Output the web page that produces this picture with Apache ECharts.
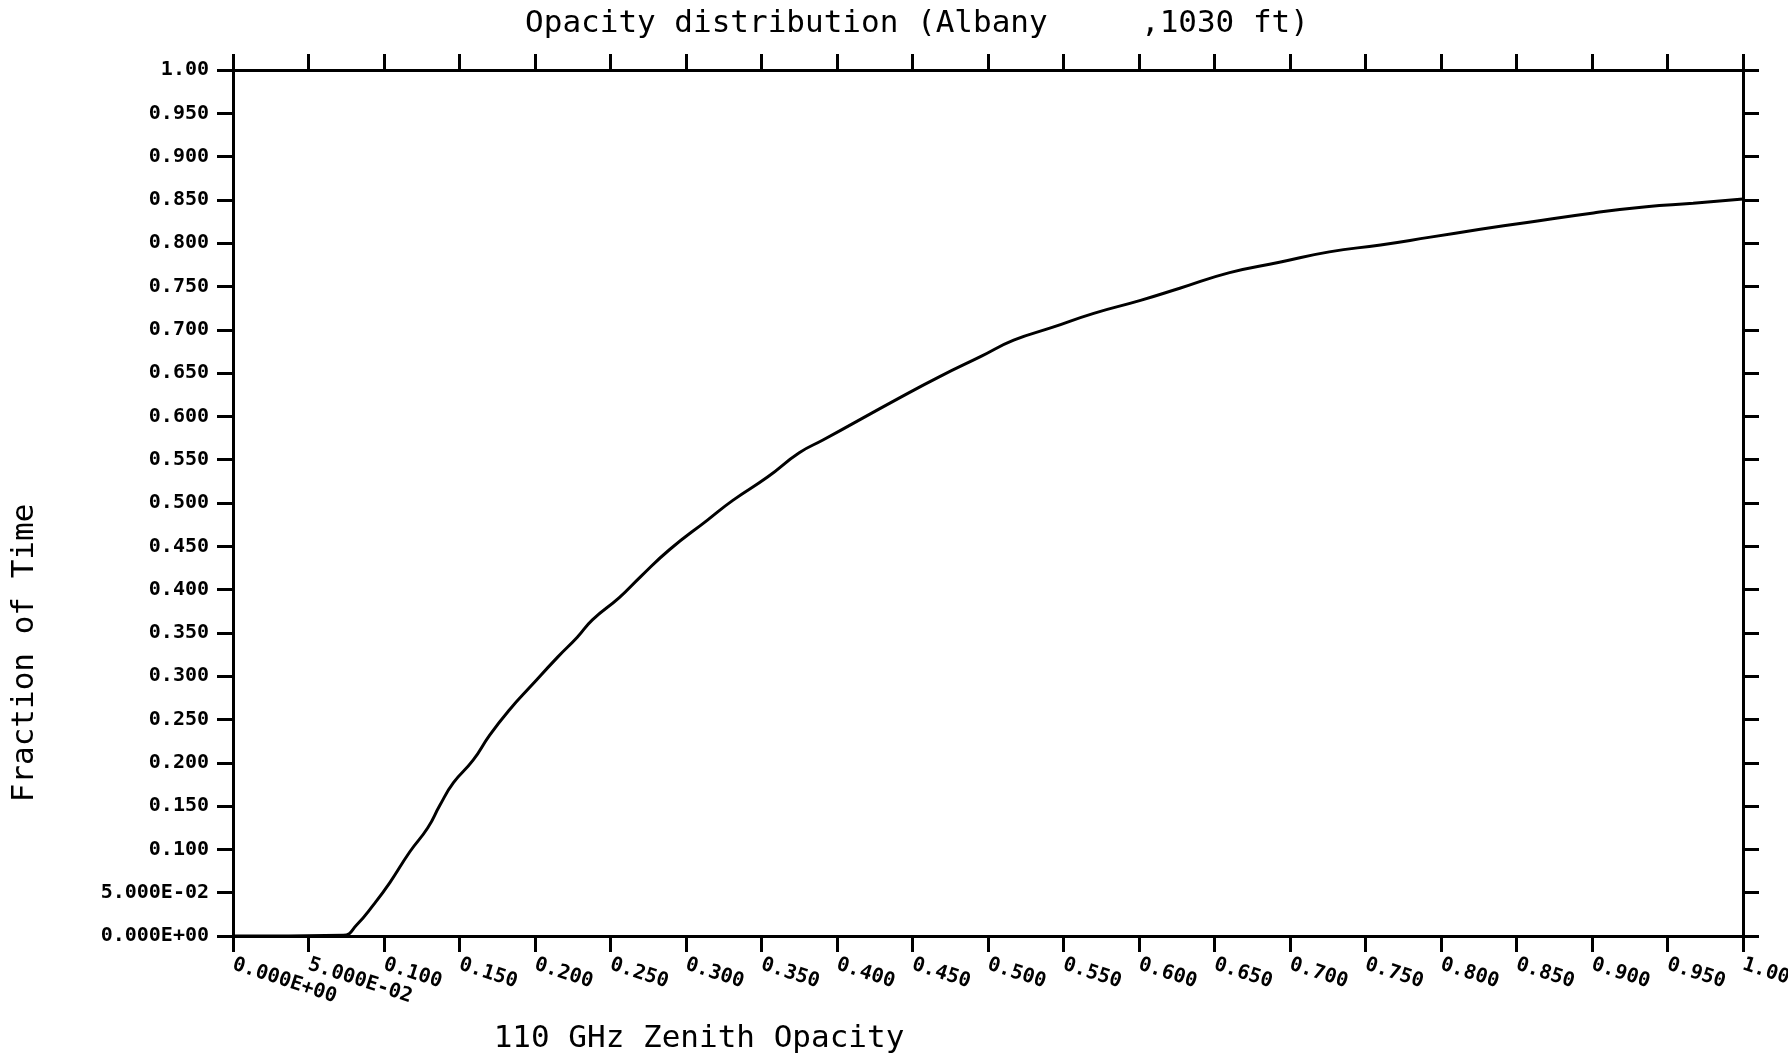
<!DOCTYPE html>
<html>
<head>
<meta charset="utf-8">
<script src="https://cdn.jsdelivr.net/npm/echarts@6/dist/echarts.min.js"></script>
<style>
  html, body { margin: 0; background: #fff; }
  #chart { width: 1788px; height: 1054px; }
</style>
</head>
<body>
<div id="chart"></div>
<script>
// 110 GHz zenith opacity vs. cumulative fraction of time
const opacity = [0, 0.073, 0.082, 0.093, 0.104, 0.117, 0.129, 0.137, 0.146, 0.159, 0.170, 0.183, 0.197, 0.215, 0.228, 0.238, 0.256, 0.270, 0.289, 0.314, 0.331, 0.354, 0.375, 0.391, 0.442, 0.468, 0.495, 0.517, 0.543, 0.570, 0.601, 0.627, 0.660, 0.693, 0.726, 0.760, 0.793, 0.826, 0.857, 0.901, 0.936, 0.967, 1.0]
const fraction = [0, 0.001, 0.013, 0.036, 0.062, 0.097, 0.125, 0.151, 0.177, 0.203, 0.232, 0.261, 0.288, 0.322, 0.345, 0.365, 0.391, 0.415, 0.446, 0.480, 0.503, 0.530, 0.558, 0.573, 0.622, 0.646, 0.669, 0.688, 0.703, 0.719, 0.734, 0.748, 0.766, 0.778, 0.790, 0.798, 0.807, 0.816, 0.824, 0.835, 0.842, 0.846, 0.851]

const xTickLabels = ['0.000E+00', '5.000E-02', '0.100', '0.150', '0.200', '0.250', '0.300', '0.350', '0.400', '0.450', '0.500', '0.550', '0.600', '0.650', '0.700', '0.750', '0.800', '0.850', '0.900', '0.950', '1.00']
const yTickLabels = ['0.000E+00', '5.000E-02', '0.100', '0.150', '0.200', '0.250', '0.300', '0.350', '0.400', '0.450', '0.500', '0.550', '0.600', '0.650', '0.700', '0.750', '0.800', '0.850', '0.900', '0.950', '1.00']

const titleText = 'Opacity distribution (Albany     ,1030 ft)'
const xName = '110 GHz Zenith Opacity'
const yName = 'Fraction of Time'

const mono = '"DejaVu Sans Mono", "Liberation Mono", monospace'
const ink = '#000'

const chart = echarts.init(document.getElementById('chart'))

// shared axis look: black frame, outward ticks every 0.05
const frame = {
  type: 'value',
  min: 0,
  max: 1,
  interval: 0.05,
  axisLine: { show: true, onZero: false, lineStyle: { color: ink, width: 3 } },
  axisTick: { show: true, inside: false, length: 16, lineStyle: { color: ink, width: 3 } },
  splitLine: { show: false },
}

const idx = v => Math.round(v / 0.05)

const option = {
  backgroundColor: '#fff',
  animation: false,
  grid: { left: 233, right: 45, top: 70, bottom: 118, containLabel: false, outerBoundsMode: 'none' },
  graphic: [
    {
      type: 'text', x: 917, y: 24,
      style: { text: titleText, fill: ink, font: '31px ' + mono, textAlign: 'center', textVerticalAlign: 'middle' },
    },
    {
      type: 'text', x: 699, y: 1039,
      style: { text: xName, fill: ink, font: '31px ' + mono, textAlign: 'center', textVerticalAlign: 'middle' },
    },
    {
      type: 'text', x: 25, y: 653, rotation: Math.PI / 2,
      style: { text: yName, fill: ink, font: '31px ' + mono, textAlign: 'center', textVerticalAlign: 'middle' },
    },
  ],
  xAxis: [
    {
      ...frame,
      position: 'bottom',
      axisLabel: {
        show: true,
        rotate: -18,
        margin: 28,
        color: ink,
        fontFamily: mono,
        fontWeight: 'bold',
        fontSize: 20,
        formatter: v => xTickLabels[idx(v)],
      },
    },
    { ...frame, position: 'top', axisLabel: { show: false } },
  ],
  yAxis: [
    {
      ...frame,
      position: 'left',
      axisLabel: {
        show: true,
        margin: 24,
        color: ink,
        fontFamily: mono,
        fontWeight: 'bold',
        fontSize: 20,
        formatter: v => yTickLabels[idx(v)],
      },
    },
    { ...frame, position: 'right', axisLabel: { show: false } },
  ],
  series: [
    {
      type: 'line',
      xAxisIndex: 0,
      yAxisIndex: 0,
      smooth: 0.5,
      symbol: 'none',
      lineStyle: { color: ink, width: 3 },
      data: opacity.map((x, i) => [x, fraction[i]]),
    },
  ],
}

chart.setOption(option)
</script>
</body>
</html>
